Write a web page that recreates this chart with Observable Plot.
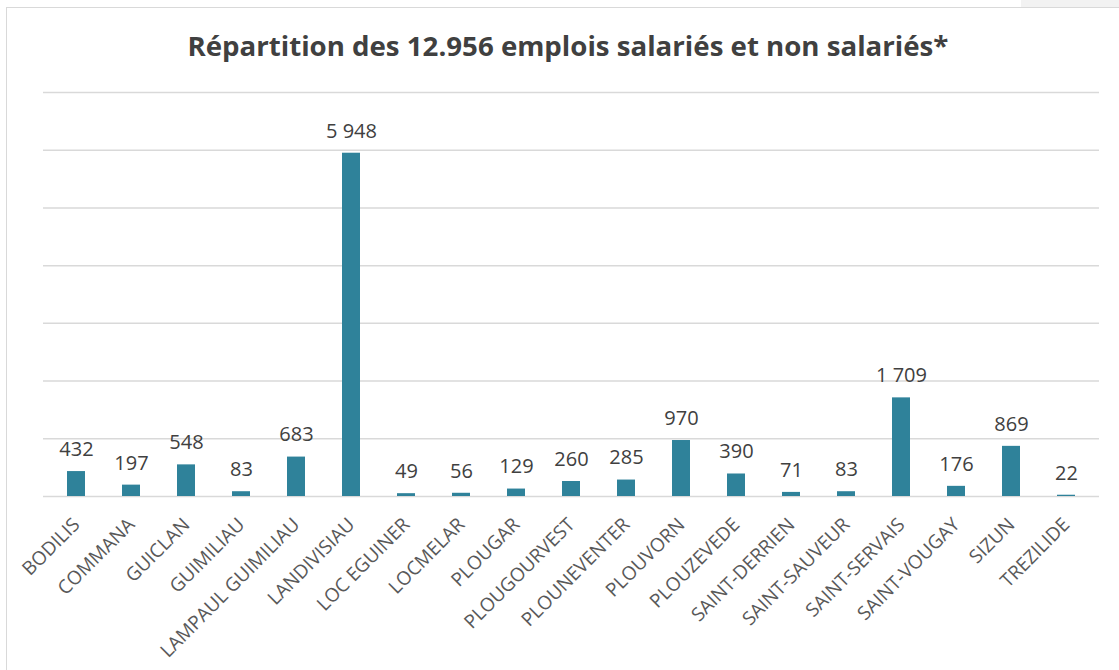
<!DOCTYPE html>
<html>
<head>
<meta charset="utf-8">
<script src="https://cdn.jsdelivr.net/npm/d3@7"></script>
<script src="https://cdn.jsdelivr.net/npm/@observablehq/plot@0.6"></script>
<style>
  html, body { margin: 0; padding: 0; background: #ffffff; }
  body { width: 1119px; height: 670px; position: relative; overflow: hidden; font-family: "Open Sans", sans-serif; }
  #corner { position: absolute; left: 1021px; top: 0; width: 98px; height: 7px; background: #f2f2f2; }
  #frame { position: absolute; left: 6px; top: 7px; width: 1200px; height: 700px; border-left: 1.5px solid #d9d9d9; border-top: 1.5px solid #d9d9d9; }
  #title { position: absolute; left: 0; top: 28px; width: 1135px; text-align: center; white-space: nowrap; }
  #title span { display: inline-block; font-family: "Open Sans", sans-serif; font-weight: 700; font-size: 26px; color: #404040; transform-origin: center; }
  #chart { position: absolute; left: 0; top: 0; }
</style>
</head>
<body>
<div id="corner"></div>
<div id="frame"></div>
<div id="chart"></div>
<div id="title"><span>Répartition des 12.956 emplois salariés et non salariés*</span></div>
<script>
const communes = ["BODILIS","COMMANA","GUICLAN","GUIMILIAU","LAMPAUL GUIMILIAU","LANDIVISIAU","LOC EGUINER","LOCMELAR","PLOUGAR","PLOUGOURVEST","PLOUNEVENTER","PLOUVORN","PLOUZEVEDE","SAINT-DERRIEN","SAINT-SAUVEUR","SAINT-SERVAIS","SAINT-VOUGAY","SIZUN","TREZILIDE"];
const emplois = [432,197,548,83,683,5948,49,56,129,260,285,970,390,71,83,1709,176,869,22];
const gridValues = [0,1000,2000,3000,4000,5000,6000,7000];

const data = communes.map((c, i) => ({commune: c, emplois: emplois[i]}));
const fmt = d3.formatLocale({decimal: ",", thousands: "\u00a0", grouping: [3], currency: ["", ""]}).format(",d");

const chart = Plot.plot({
  width: 1119,
  height: 670,
  marginTop: 92,
  marginBottom: 174,
  marginLeft: 43,
  marginRight: 20,
  style: {background: "transparent", fontFamily: "Open Sans, sans-serif", overflow: "visible"},
  x: {domain: communes, paddingInner: 0.68, paddingOuter: 0.34, axis: null},
  y: {domain: [0, 7000], axis: null},
  marks: [
    Plot.ruleY(gridValues, {stroke: "#d9d9d9", strokeWidth: 1.5}),
    Plot.barY(data, {x: "commune", y: "emplois", fill: "#2f829a"}),
    Plot.text(data, {x: "commune", y: "emplois", text: d => fmt(d.emplois), dy: -22, lineAnchor: "middle", fontSize: 20, fill: "#404040"}),
    Plot.text(data, {x: "commune", text: "commune", frameAnchor: "bottom", rotate: -45, textAnchor: "end", lineAnchor: "middle", dy: 25, fontSize: 19, fill: "#595959"})
  ]
});
document.getElementById("chart").appendChild(chart);

const span = document.querySelector("#title span");
const w = span.getBoundingClientRect().width;
span.style.transform = `scaleX(${761 / w})`;
</script>
</body>
</html>
